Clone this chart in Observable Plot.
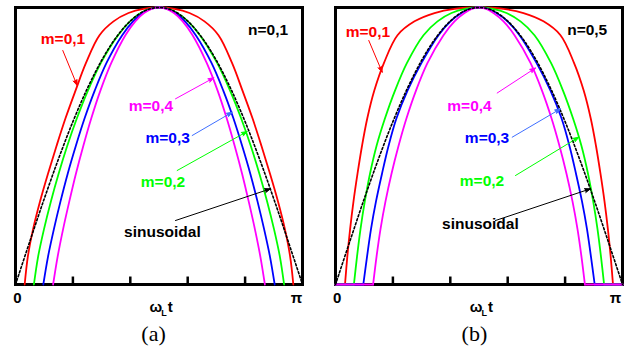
<!DOCTYPE html>
<html><head><meta charset="utf-8">
<script src="https://cdn.jsdelivr.net/npm/d3@7"></script>
<script src="https://cdn.jsdelivr.net/npm/@observablehq/plot@0.6"></script>
<style>
body{margin:0;background:#fff;}
#wrap{display:flex;width:630px;height:356px;overflow:hidden;}
</style></head><body><div id="wrap"></div>
<script>
// y levels (normalised amplitude) at which the left flank of each curve was read, x in units of pi
const LEVELS = [0,0.1,0.2,0.3,0.4,0.5,0.6,0.7,0.8,0.9,0.95,0.98,0.995,1];
// panel (a) n=0,1
const A_M01 = [0.032,0.0429,0.0613,0.0854,0.1132,0.1429,0.1742,0.2091,0.2456,0.2927,0.3415,0.3937,0.446,0.5];
const A_M02 = [0.0641,0.0787,0.0993,0.1233,0.1502,0.1801,0.2139,0.2523,0.2976,0.3575,0.399,0.4362,0.4681,0.5];
const A_M03 = [0.0969,0.1132,0.1338,0.1568,0.1819,0.2101,0.2408,0.276,0.3171,0.3718,0.4094,0.4429,0.4714,0.5];
const A_M04 = [0.131,0.1467,0.1659,0.1875,0.2105,0.2362,0.2641,0.2958,0.3338,0.3829,0.4174,0.4477,0.4739,0.5];
// panel (b) n=0,5
const B_M01 = [0.0331,0.0411,0.0509,0.0627,0.0767,0.0923,0.1108,0.1352,0.169,0.216,0.2753,0.3449,0.4146,0.5];
const B_M02 = [0.0641,0.0749,0.0871,0.1021,0.1202,0.1429,0.1725,0.2073,0.2491,0.3066,0.3554,0.4042,0.4521,0.5];
const B_M03 = [0.0969,0.1098,0.1237,0.1411,0.162,0.1847,0.2125,0.2509,0.2997,0.3589,0.4007,0.439,0.4695,0.5];
const B_M04 = [0.131,0.1429,0.1568,0.1742,0.1951,0.2195,0.2474,0.2805,0.3206,0.3763,0.4146,0.4495,0.4747,0.5];
// sinusoidal reference
const SINE_X = [0,0.05,0.1,0.15,0.2,0.25,0.3,0.35,0.4,0.45,0.5,0.55,0.6,0.65,0.7,0.75,0.8,0.85,0.9,0.95,1];
const SINE_Y = [0,0.156,0.309,0.454,0.588,0.707,0.809,0.891,0.951,0.988,1,0.988,0.951,0.891,0.809,0.707,0.588,0.454,0.309,0.156,0];
const X_TICKS = [0.2,0.4,0.6,0.8];
const COLORS = ["#ff0000","#00ff00","#0000ff","#ff00ff"];
const ARROW_COLORS = ["#ff0000","#00ff00","#3f6fff","#ff00ff","#000000"];
// label positions (centre) [m01, m02, m03, m04, n, sinusoidal]
const LABELS_A = ["m=0,1","m=0,2","m=0,3","m=0,4","n=0,1","sinusoidal"];
const LABEL_X_A = [0.1655,0.514,0.530,0.472,0.880,0.512];
const LABEL_Y_A = [0.886,0.369,0.529,0.643,0.917,0.188];
const LABELS_B = ["m=0,1","m=0,2","m=0,3","m=0,4","n=0,5","sinusoidal"];
const LABEL_X_B = [0.113,0.5105,0.528,0.467,0.877,0.505];
const LABEL_Y_B = [0.913,0.372,0.527,0.643,0.917,0.220];
// arrows [x1,y1,x2,y2] for m01, m02, m03, m04, sinusoidal
const ARROWS_A = [[0.1648,0.8448,0.215,0.7184],[0.5634,0.4116,0.8073,0.5523],[0.6157,0.5379,0.7551,0.622],[0.5575,0.6704,0.691,0.7462],[0.5575,0.231,0.8885,0.3455]];
const ARROWS_B = [[0.116,0.8809,0.1627,0.7664],[0.6272,0.3935,0.8477,0.5318],[0.6157,0.5318,0.784,0.6341],[0.5634,0.6913,0.6969,0.7816],[0.5575,0.231,0.8885,0.3455]];

const SANS = "Liberation Sans, Arial, sans-serif";
const SERIF = "Liberation Serif, Times New Roman, serif";

function curve(half, zeroSeg) {
  const left = half.map((x, i) => ({x, y: LEVELS[i]}));
  const right = half.slice(0, -1).map((x, i) => ({x: 1 - x, y: LEVELS[i]})).reverse();
  let pts = left.concat(right);
  if (zeroSeg) pts = [{x: 0, y: 0}].concat(pts, [{x: 1, y: 0}]);
  return pts;
}

function panel(cfg) {
  const marks = [];
  marks.push(Plot.frame({stroke: "black", strokeWidth: 3}));
  marks.push(Plot.ruleX(X_TICKS, {x: d => d, y1: 0, y2: 0.027, stroke: "black", strokeWidth: 2.5}));
  cfg.curves.forEach((half, i) => {
    const pts = curve(half, cfg.zeroSeg);
    if (cfg.zeroSeg) {
      marks.push(Plot.line(pts.slice(0, 2), {x: "x", y: "y", stroke: COLORS[i], strokeWidth: 2}));
      marks.push(Plot.line(pts.slice(-2), {x: "x", y: "y", stroke: COLORS[i], strokeWidth: 2}));
      marks.push(Plot.line(pts.slice(1, -1), {x: "x", y: "y", stroke: COLORS[i], strokeWidth: 1.8, curve: "catmull-rom"}));
    } else {
      marks.push(Plot.line(pts, {x: "x", y: "y", stroke: COLORS[i], strokeWidth: 1.8, curve: "catmull-rom"}));
    }
  });
  const sine = SINE_X.map((x, i) => ({x, y: SINE_Y[i]}));
  marks.push(Plot.line(sine, {x: "x", y: "y", stroke: "black", strokeWidth: 1.6, strokeDasharray: "2,2.2", curve: "catmull-rom"}));
  marks.push(Plot.arrow(cfg.arrows, {x1: d => d[0], y1: d => d[1], x2: d => d[2], y2: d => d[3],
    stroke: (d, i) => ARROW_COLORS[i], fill: (d, i) => ARROW_COLORS[i], strokeWidth: 1, headLength: 9, headAngle: 40, strokeLinejoin: "miter"}));
  const labels = cfg.labels.map((t, i) => ({t, x: cfg.lx[i], y: cfg.ly[i], c: i < 4 ? COLORS[i] : "#000"}));
  marks.push(Plot.text(labels, {x: "x", y: "y", text: "t", fill: d => d.c, fontSize: 15.5, fontWeight: "bold", fontFamily: SANS, textAnchor: "middle", lineAnchor: "middle"}));
  marks.push(Plot.text([{t: "0", x: cfg.zeroX}, {t: "π", x: cfg.piX}], {x: "x", y: () => -0.05, text: "t", fontSize: 15, fontWeight: "bold", fontFamily: SANS, textAnchor: "middle", lineAnchor: "middle", fill: "black"}));
  marks.push(Plot.text([cfg.tag], {x: () => cfg.tagX, y: () => -0.18, text: d => d, fontSize: 22, fontFamily: SERIF, textAnchor: "middle", lineAnchor: "middle", fill: "black"}));
  const plot = Plot.plot({
    width: 315, height: 356,
    marginLeft: cfg.ml, marginRight: cfg.mr, marginTop: 7, marginBottom: 72,
    x: {domain: [0, 1], axis: null},
    y: {domain: [0, 1], axis: null},
    style: {background: "white", overflow: "visible"},
    marks
  });
  // x-axis title  ω_L t
  const sx = plot.scale("x"), sy = plot.scale("y");
  const fx = d3.scaleLinear(sx.domain, sx.range), fy = d3.scaleLinear(sy.domain, sy.range);
  const t = d3.select(plot).append("text")
    .attr("x", fx(cfg.axisX)).attr("y", fy(-0.101))
    .attr("text-anchor", "middle").attr("font-family", SANS)
    .attr("font-weight", "bold").attr("font-size", 15).attr("fill", "black");
  t.append("tspan").text("ω");
  t.append("tspan").attr("font-size", 9).attr("dy", 4).attr("dx", -1).text("L");
  t.append("tspan").attr("dy", -4).attr("dx", 1).text("t");
  return plot;
}

const wrap = document.getElementById("wrap");
wrap.appendChild(panel({curves: [A_M01, A_M02, A_M03, A_M04], zeroSeg: false, ml: 15, mr: 13,
  labels: LABELS_A, lx: LABEL_X_A, ly: LABEL_Y_A, arrows: ARROWS_A, zeroX: 0.007, piX: 0.979, axisX: 0.509, tag: "(a)", tagX: 0.481}));
wrap.appendChild(panel({curves: [B_M01, B_M02, B_M03, B_M04], zeroSeg: true, ml: 20, mr: 8,
  labels: LABELS_B, lx: LABEL_X_B, ly: LABEL_Y_B, arrows: ARROWS_B, zeroX: 0.006, piX: 0.9756, axisX: 0.51, tag: "(b)", tagX: 0.484}));
</script></body></html>
